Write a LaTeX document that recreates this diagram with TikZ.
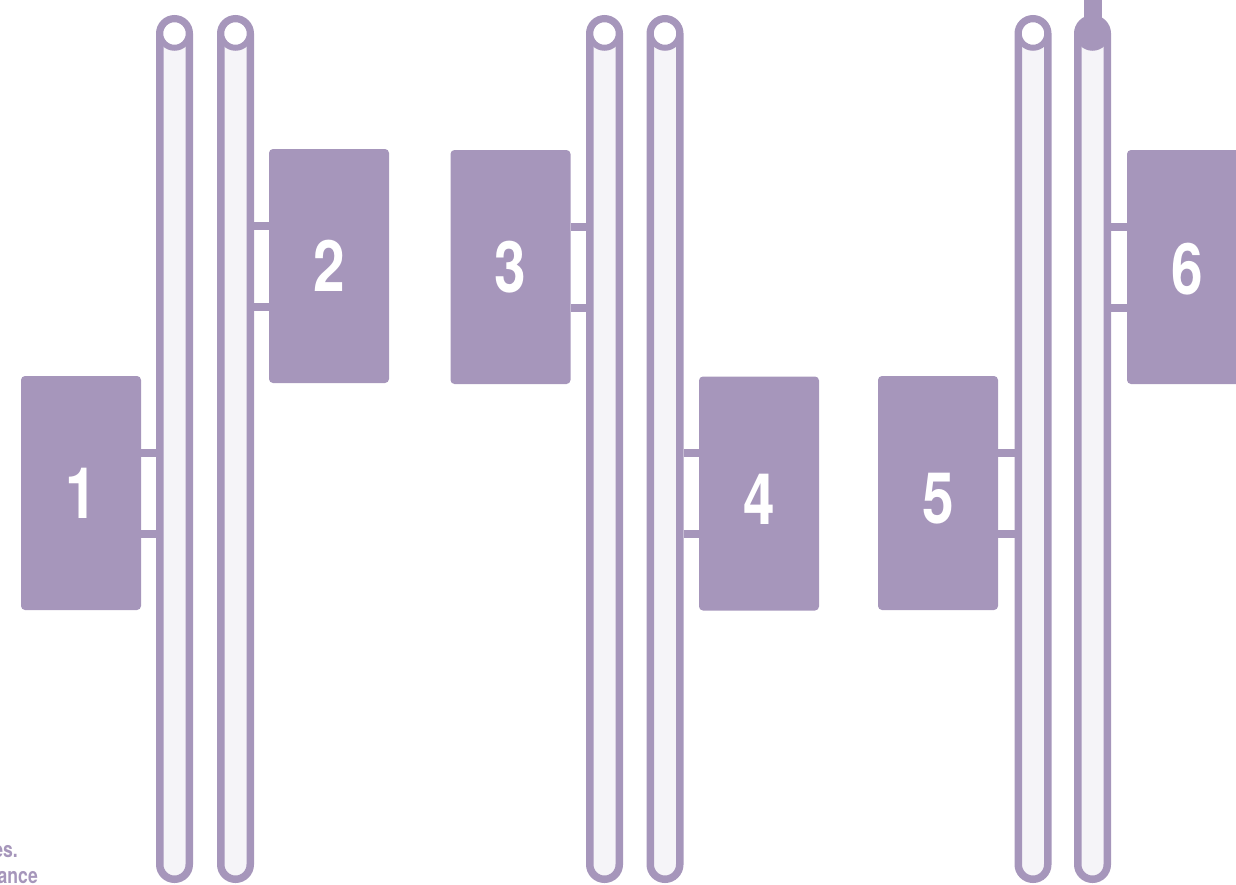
\documentclass[tikz,border=0pt]{standalone}
\usepackage{fontspec}
\newfontfamily\condfont[FakeStretch=0.8]{TeX Gyre Heros}
\definecolor{lav}{RGB}{166,150,187}
\definecolor{tubefill}{RGB}{245,244,248}
\newcommand{\lowdigit}[2]{\smash{\raisebox{#1}{#2}}\vphantom{#2}}
\begin{document}
\begin{tikzpicture}[x=1pt,y=-1pt,
  tube/.style={draw=lav,fill=tubefill,line width=7.5pt,rectangle,rounded corners=14.75pt,minimum width=29.5pt,minimum height=860.5pt,inner sep=0pt},
  hole/.style={draw=lav,fill=white,line width=6pt,circle,minimum size=28.5pt,inner sep=0pt},
  stepbox/.style={fill=lav,rounded corners=4pt,minimum width=120pt,minimum height=234pt,inner sep=0pt,text=white,font=\condfont\bfseries\fontsize{71}{71}\selectfont},
  conn/.style={draw=lav,line width=8pt},
  note/.style={text=lav,font=\condfont\bfseries\fontsize{22}{26}\selectfont,inner sep=0pt}]
\useasboundingbox (0,0) rectangle (1236,884);
\clip (0,0) rectangle (1236,884);
% tubes
\node[tube] (t1) at (174.5,449) {};
\node[tube] (t2) at (235.5,449) {};
\node[tube] (t3) at (604.5,449) {};
\node[tube] (t4) at (665,449) {};
\node[tube] (t5) at (1033,449) {};
\node[tube] (t6) at (1092.5,449) {};
% tube tops
\node[hole] (h1) at (174.5,33.5) {};
\node[hole] (h2) at (235.5,33.5) {};
\node[hole] (h3) at (604.5,33.5) {};
\node[hole] (h4) at (665,33.5) {};
\node[hole] (h5) at (1033,33.5) {};
\node[hole,fill=lav] (h6) at (1092.5,33.5) {};
\coordinate (top6) at (1092.5,0);
\draw[lav,line width=18pt] (top6) -- (h6.center);
% boxes
\node[stepbox] (b1) at (81,493) {1};
\node[stepbox] (b2) at (329,266) {2};
\node[stepbox] (b3) at (510.5,267) {3};
\node[stepbox] (b4) at (759,493.5) {\lowdigit{-6pt}{4}};
\node[stepbox] (b5) at (938,493) {\lowdigit{-6pt}{5}};
\node[stepbox] (b6) at (1187,267) {\lowdigit{-2pt}{6}};
% connectors
\foreach \b/\t/\s in {b1/t1/east, b3/t3/east, b5/t5/east}{
  \draw[conn] ([yshift=40.5pt]\b.\s) -- ([yshift=40.5pt]\b.\s -| \t.west);
  \draw[conn] ([yshift=-40.5pt]\b.\s) -- ([yshift=-40.5pt]\b.\s -| \t.west);
}
\foreach \b/\t/\s in {b2/t2/west, b4/t4/west, b6/t6/west}{
  \draw[conn] ([yshift=40.5pt]\b.\s) -- ([yshift=40.5pt]\b.\s -| \t.east);
  \draw[conn] ([yshift=-40.5pt]\b.\s) -- ([yshift=-40.5pt]\b.\s -| \t.east);
}
% clipped notes (cut off at the left edge, as in the reference)
\node[note,anchor=base east] (n1) at (18,857) {es.};
\node[note,anchor=base east] (n2) at (38,883) {ance};
\end{tikzpicture}
\end{document}
